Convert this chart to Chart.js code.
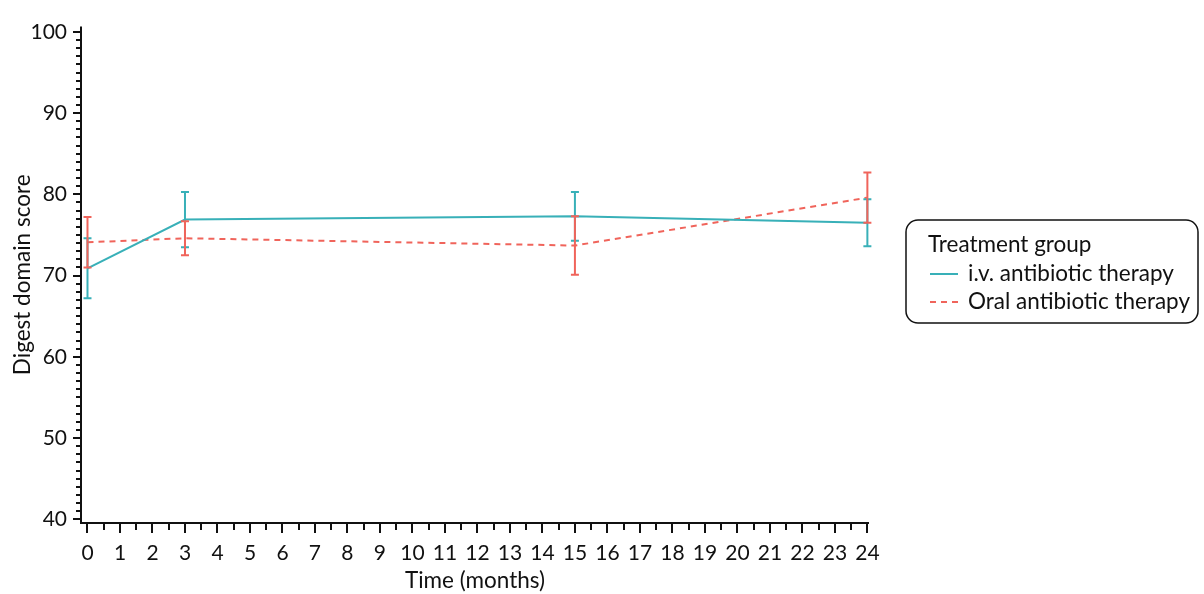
<!DOCTYPE html>
<html>
<head>
<meta charset="utf-8">
<script src="https://cdn.jsdelivr.net/npm/chart.js@4.4.1/dist/chart.umd.min.js"></script>
<style>
  html, body { margin: 0; padding: 0; background: #fff; }
  #wrap { width: 1204px; height: 594px; position: relative; }
</style>
</head>
<body>
<div id="wrap"><canvas id="chart" width="1204" height="594"></canvas></div>
<script>
// --------------- Data ---------------
const months = [0, 3, 15, 24];
const ivMean = [70.9, 76.9, 77.3, 76.5];
const ivErr = [3.7, 3.4, 3.0, 2.9];
const oralMean = [74.1, 74.6, 73.7, 79.6];
const oralErr = [3.1, 2.1, 3.6, 3.1];
const xTickLabels = [0, 1, 2, 3, 4, 5, 6, 7, 8, 9, 10, 11, 12, 13, 14, 15, 16, 17, 18, 19, 20, 21, 22, 23, 24];
const yTickLabels = [40, 50, 60, 70, 80, 90, 100];
const seriesNames = ["i.v. antibiotic therapy", "Oral antibiotic therapy"];
const legendTitle = "Treatment group";

// --------------- Styles ---------------
const TEAL = '#38b0b8';
const RED = '#f0645b';
const INK = '#111';
const FONT = 'Lato, "Noto Sans", sans-serif';

// --------------- Helpers ---------------
function toPoints(means, errs) {
  return months.map((m, i) => ({ x: m, y: means[i], lo: means[i] - errs[i], hi: means[i] + errs[i] }));
}

// error bars drawn from the data through the scales
const errorBars = {
  id: 'errorBars',
  afterDatasetsDraw(chart) {
    const { ctx, scales: { x, y } } = chart;
    chart.data.datasets.forEach(ds => {
      ctx.save();
      ctx.strokeStyle = ds.borderColor;
      ctx.lineWidth = 2;
      ds.data.forEach(p => {
        const px = x.getPixelForValue(p.x);
        const top = y.getPixelForValue(p.hi);
        const bot = y.getPixelForValue(p.lo);
        ctx.beginPath();
        ctx.moveTo(px, top); ctx.lineTo(px, bot);
        ctx.moveTo(px - 4, top); ctx.lineTo(px + 4, top);
        ctx.moveTo(px - 4, bot); ctx.lineTo(px + 4, bot);
        ctx.stroke();
      });
      ctx.restore();
    });
  }
};

// axis lines with major / minor tick marks
const axisTicks = {
  id: 'axisTicks',
  afterDraw(chart) {
    const { ctx, chartArea: a, scales: { x, y } } = chart;
    ctx.save();
    ctx.strokeStyle = INK;
    ctx.lineWidth = 2;
    ctx.beginPath();
    ctx.moveTo(a.left, a.top); ctx.lineTo(a.left, a.bottom);
    ctx.moveTo(a.left - 1, a.bottom); ctx.lineTo(a.right, a.bottom);
    for (let v = 0; v <= 48; v++) {
      const px = Math.round(x.getPixelForValue(v / 2));
      const len = v % 2 === 0 ? 10 : 7;
      ctx.moveTo(px, a.bottom); ctx.lineTo(px, a.bottom + len);
    }
    for (let v = 40; v <= 100; v++) {
      const py = Math.round(y.getPixelForValue(v));
      const len = v % 10 === 0 ? 8 : 5;
      ctx.moveTo(a.left, py); ctx.lineTo(a.left - len, py);
    }
    ctx.stroke();
    ctx.restore();
  }
};

// rounded legend box on the right
const boxLegend = {
  id: 'boxLegend',
  afterDraw(chart) {
    const { ctx } = chart;
    ctx.save();
    ctx.strokeStyle = INK;
    ctx.lineWidth = 1.5;
    ctx.beginPath();
    ctx.roundRect(906, 220, 292, 103, 12);
    ctx.stroke();
    ctx.fillStyle = INK;
    ctx.font = '22.5px ' + FONT;
    ctx.textBaseline = 'middle';
    ctx.fillText(legendTitle, 928, 245);
    chart.data.datasets.forEach((ds, i) => {
      const ly = 274 + i * 28;
      ctx.strokeStyle = ds.borderColor;
      ctx.lineWidth = 2;
      ctx.setLineDash(ds.borderDash || []);
      ctx.beginPath();
      ctx.moveTo(930, ly); ctx.lineTo(958, ly);
      ctx.stroke();
      ctx.setLineDash([]);
      ctx.fillText(ds.label, 968, ly);
    });
    ctx.restore();
  }
};

// --------------- Chart ---------------
const ctx = document.getElementById('chart').getContext('2d');
const chart = new Chart(ctx, {
  type: 'line',
  data: {
    datasets: [
      { label: seriesNames[0], data: toPoints(ivMean, ivErr), borderColor: TEAL, borderWidth: 2, pointRadius: 0, fill: false },
      { label: seriesNames[1], data: toPoints(oralMean, oralErr), borderColor: RED, borderWidth: 2, borderDash: [6, 5], pointRadius: 0, fill: false }
    ]
  },
  options: {
    responsive: false,
    animation: false,
    layout: { padding: { left: 0, right: 335, top: 20, bottom: 0 } },
    plugins: { legend: { display: false }, tooltip: { enabled: false } },
    scales: {
      x: {
        type: 'linear', min: -0.2, max: 24.05,
        grid: { display: false, drawTicks: false },
        border: { display: false },
        afterBuildTicks: s => { s.ticks = xTickLabels.map(v => ({ value: v })); },
        afterFit: s => { s.height = 71; },
        ticks: { color: INK, font: { family: FONT, size: 21 }, padding: 18, maxRotation: 0, autoSkip: false },
        title: { display: true, text: 'Time (months)', color: INK, font: { family: FONT, size: 22.5 }, padding: { top: 0, bottom: 0 } }
      },
      y: {
        min: 39.55, max: 100.65,
        grid: { display: false, drawTicks: false },
        border: { display: false },
        afterBuildTicks: s => { s.ticks = yTickLabels.map(v => ({ value: v })); },
        afterFit: s => { s.width = 81; },
        ticks: { color: INK, font: { family: FONT, size: 21 }, padding: 14 },
        title: { display: true, text: 'Digest domain score', color: INK, font: { family: FONT, size: 22.5 }, padding: { top: 9, bottom: 0 } }
      }
    }
  },
  plugins: [errorBars, axisTicks, boxLegend]
});
</script>
</body>
</html>
